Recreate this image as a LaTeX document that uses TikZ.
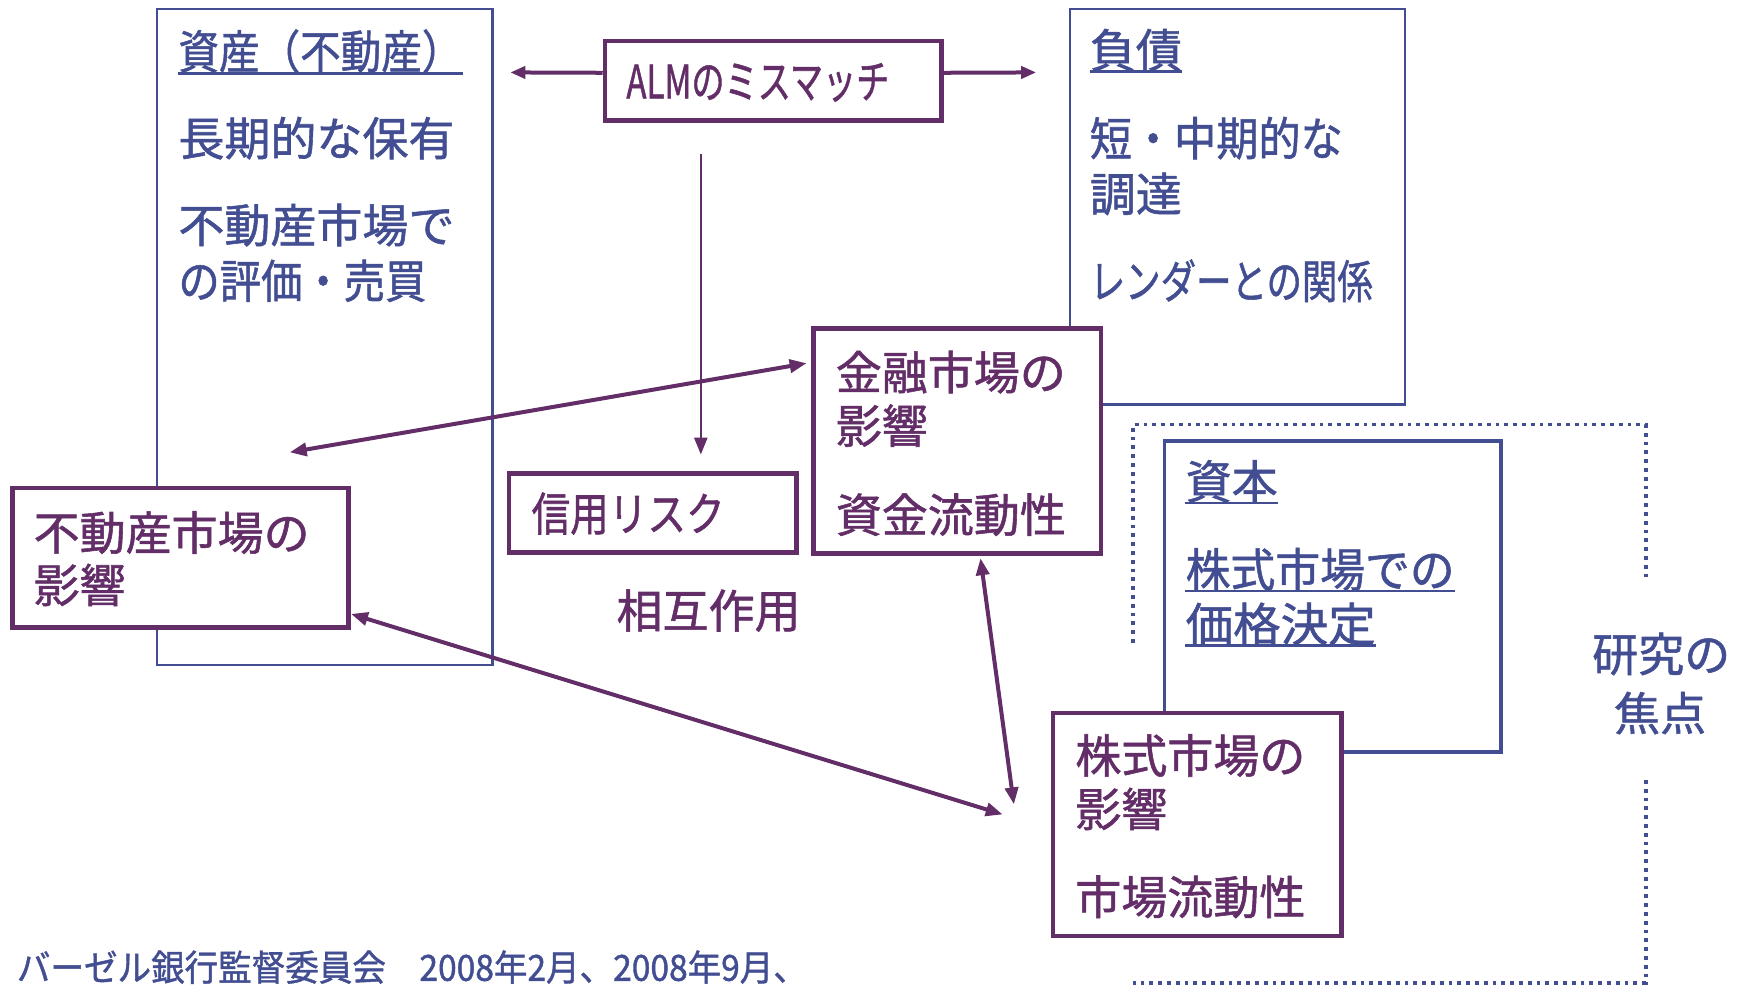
\documentclass[tikz,border=0pt]{standalone}
\usepackage{fontspec}
\setmainfont{Noto Sans CJK JP}[FakeBold=1.2]
\usepackage{graphicx}
\usetikzlibrary{fit,arrows.meta}
\definecolor{bl}{RGB}{66,78,145}
\definecolor{pu}{RGB}{99,46,104}
\newcommand{\wb}[2]{\resizebox{#1}{\height}{#2}}
\tikzset{
  bbox/.style={draw=bl, line width=2.2pt, inner sep=0pt},
  pbox/.style={draw=pu, fill=white, line width=4.5pt, inner sep=0pt},
  btxt/.style={text=bl, inner sep=0pt, anchor=west, font=\fontsize{46}{55}\selectfont},
  ptxt/.style={text=pu, inner sep=0pt, anchor=west, font=\fontsize{46}{55}\selectfont},
  ul/.style={draw=bl, line width=2.5pt},
  dotline/.style={draw=bl, line width=3.8pt, dash pattern=on 3.8pt off 5pt},
  dblarr/.style={draw=pu, line width=4pt, {Triangle[length=17pt,width=13pt]}-{Triangle[length=17pt,width=13pt]}},
  onearr/.style={draw=pu, line width=4pt, -{Triangle[length=15pt,width=12pt]}},
  thinarr/.style={draw=pu, line width=2.6pt, -{Triangle[length=17pt,width=13pt]}}
}
\begin{document}
\begin{tikzpicture}[x=1.1142pt,y=-1.1142pt]
\useasboundingbox (0,0) rectangle (1568,885);

% asset box
\node[bbox, fit={(141,8) (442,597)}] (asset) {};
\node[btxt] (a1) at (160,46) {\wb{284pt}{資産（不動産）}};
\draw[ul] (a1.south west) -- (a1.south east);
\node[btxt] (a2) at (160,124) {長期的な保有};
\node[btxt] (a3) at (160,202) {不動産市場で};
\node[btxt] (a4) at (160,252) {\wb{248pt}{の評価・売買}};

% liabilities box
\node[bbox, fit={(960,8) (1261,363)}] (liab) {};
\node[btxt] (l1) at (978,45) {負債};
\draw[ul] (l1.south west) -- (l1.south east);
\node[btxt] (l2) at (978,124) {\wb{253pt}{短・中期的な}};
\node[btxt] (l3) at (978,174) {調達};
\node[btxt] (l4) at (978,252) {\wb{283pt}{レンダーとの関係}};

% dotted focus frame
\coordinate (d1) at (1017,577);
\coordinate (d2) at (1017,381);
\coordinate (d3) at (1477,381);
\coordinate (d4) at (1477,522);
\coordinate (d5) at (1477,700);
\coordinate (d6) at (1477,882);
\coordinate (d7) at (1017,882);
\draw[dotline] (d1) -- (d2) -- (d3) -- (d4);
\draw[dotline] (d5) -- (d6) -- (d7);

% capital box
\node[bbox, line width=3.5pt, fit={(1045,396) (1347,675)}] (cap) {};
\node[btxt] (c1) at (1064,432) {資本};
\draw[ul] (c1.south west) -- (c1.south east);
\node[btxt] (c2) at (1064,511) {\wb{269pt}{株式市場での}};
\draw[ul] (c2.south west) -- (c2.south east);
\node[btxt] (c3) at (1064,560) {\wb{190pt}{価格決定}};
\draw[ul] (c3.south west) -- (c3.south east);

\node[btxt, anchor=center] (f1) at (1491,587) {研究の};
\node[btxt, anchor=center] (f2) at (1490,640) {焦点};

% ALM box
\node[pbox, fit={(543,37) (845,108)}] (alm) {};
\node[ptxt] (almt) at (562,74) {\wb{263pt}{ALMのミスマッチ}};

% connectors
\coordinate (almL) at (458,65);
\coordinate (almR) at (930,65);
\draw[onearr] ([yshift=8pt]alm.west) -- (almL);
\draw[onearr] ([yshift=8pt]alm.east) -- (almR);
\coordinate (vA) at (629,138);
\coordinate (vB) at (629,408);
\draw[thinarr] (vA) -- (vB);
\coordinate (faL) at (260,406);
\coordinate (faR) at (724,326);
\draw[dblarr] (faL) -- (faR);
\coordinate (reR) at (315,551);
\coordinate (stL) at (900,731);
\draw[dblarr] (reR) -- (stL);
\coordinate (fsT) at (880,501);
\coordinate (fsB) at (910,722);
\draw[dblarr] (fsT) -- (fsB);

% financial market box
\node[pbox, fit={(730,295) (988,497)}] (fin) {};
\node[ptxt] (fi1) at (750,334) {金融市場の};
\node[ptxt] (fi2) at (750,382) {影響};
\node[ptxt] (fi3) at (750,462) {資金流動性};

% credit risk box
\node[pbox, fit={(457,425) (715,496)}] (cred) {};
\node[ptxt] (cr1) at (477,461) {\wb{193pt}{信用リスク}};
\node[ptxt, anchor=center] (inter) at (636,548) {相互作用};

% real estate market box
\node[pbox, fit={(11,438) (313,563)}] (re) {};
\node[ptxt] (re1) at (30,478) {不動産市場の};
\node[ptxt] (re2) at (30,525) {影響};

% stock market box
\node[pbox, fit={(945,640) (1204,840)}] (st) {};
\node[ptxt] (st1) at (965,678) {株式市場の};
\node[ptxt] (st2) at (965,726) {影響};
\node[ptxt] (st3) at (965,805) {市場流動性};

% footer
\node[btxt, font=\fontsize{36}{43}\selectfont] (foot) at (15,868) {\wb{790pt}{バーゼル銀行監督委員会\quad 2008年2月、2008年9月、}};
\end{tikzpicture}
\end{document}
